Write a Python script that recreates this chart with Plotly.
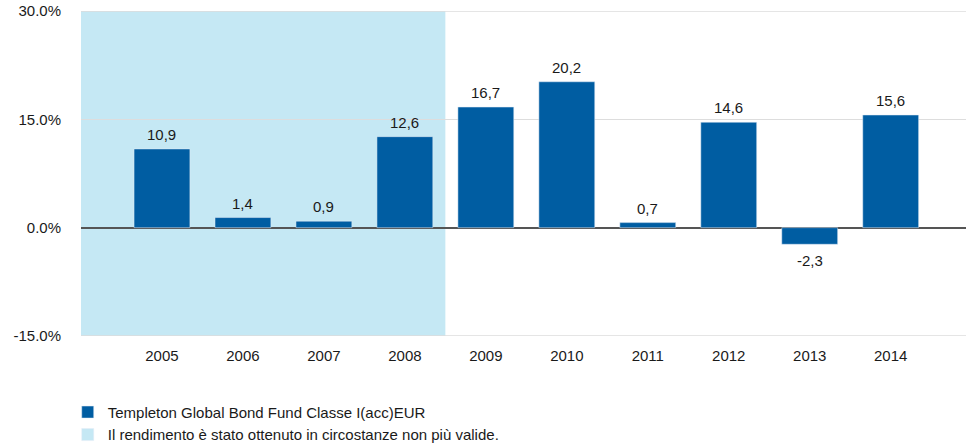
import plotly.graph_objects as go

years = ["2005", "2006", "2007", "2008", "2009", "2010", "2011", "2012", "2013", "2014"]
returns = [10.9, 1.4, 0.9, 12.6, 16.7, 20.2, 0.7, 14.6, -2.3, 15.6]
series_name = "Templeton Global Bond Fund Classe I(acc)EUR"
shade_name = "Il rendimento è stato ottenuto in circostanze non più valide."
shade_years = ["2005", "2006", "2007", "2008"]
y_ticks = [-15, 0, 15, 30]
y_tick_labels = ["-15.0%", "0.0%", "15.0%", "30.0%"]

BAR = "#005da2"
SHADE = "#c5e8f4"
TXT = "#1a1a1a"
GRID = "#dddddd"
FONT = "Liberation Sans, Arial, sans-serif"
FS = 15

fig = go.Figure()
fig.add_trace(go.Bar(
    x=years, y=returns, name=series_name, marker_color=BAR, width=0.69,
    legendgroup="a", hoverinfo="x+y",
))
fig.add_trace(go.Bar(
    x=[years[0]], y=[None], name=shade_name, marker_color=SHADE,
    legendgroup="b", showlegend=True, hoverinfo="skip",
))

# shaded region for the first years
fig.add_shape(type="rect", xref="x", yref="paper",
              x0=-1, x1=len(shade_years) - 0.5, y0=0, y1=1,
              fillcolor=SHADE, line_width=0, layer="below")

# gridlines at the range ends (plotly omits them at the plot edges)
for yv in (min(y_ticks), max(y_ticks)):
    fig.add_shape(type="line", xref="paper", yref="y", x0=0, x1=1,
                  y0=yv, y1=yv, line=dict(color=GRID, width=1.5),
                  layer="below")

for i, v in enumerate(returns):
    fig.add_annotation(
        x=i, y=v, xref="x", yref="y",
        text=f"{v:.1f}".replace(".", ","), showarrow=False,
        yanchor="bottom" if v >= 0 else "top", yshift=4 if v >= 0 else -6,
        font=dict(size=FS, color=TXT, family=FONT),
    )

fig.update_layout(
    width=966, height=446,
    margin=dict(l=81, r=0, t=11, b=110, autoexpand=False),
    paper_bgcolor="white", plot_bgcolor="white",
    font=dict(family=FONT, size=FS, color=TXT),
    showlegend=True,
    barmode="overlay",
    legend=dict(x=-0.015, y=-0.184, xanchor="left", yanchor="top",
                orientation="v", tracegroupgap=9, traceorder="normal",
                font=dict(size=FS, color=TXT, family=FONT),
                bgcolor="rgba(0,0,0,0)"),
    xaxis=dict(type="category", range=[-1, 9.93], showgrid=False,
               showline=False, ticks="", ticklabelstandoff=9,
               automargin=False,
               tickfont=dict(size=FS, color=TXT)),
    yaxis=dict(range=[-15, 30], tickvals=y_ticks, ticktext=y_tick_labels,
               showgrid=True, gridcolor=GRID, gridwidth=1,
               zeroline=True, zerolinecolor="#555555", zerolinewidth=1.5,
               showline=False, ticks="", ticklabelstandoff=19,
               automargin=False, ticklabeloverflow="allow",
               tickfont=dict(size=FS, color=TXT)),
)

# remove the default 8px body margin so the figure fills the window exactly
fig.write_html("out.html",
               config={"displayModeBar": False},
               post_script="document.body.style.margin='0px';")
